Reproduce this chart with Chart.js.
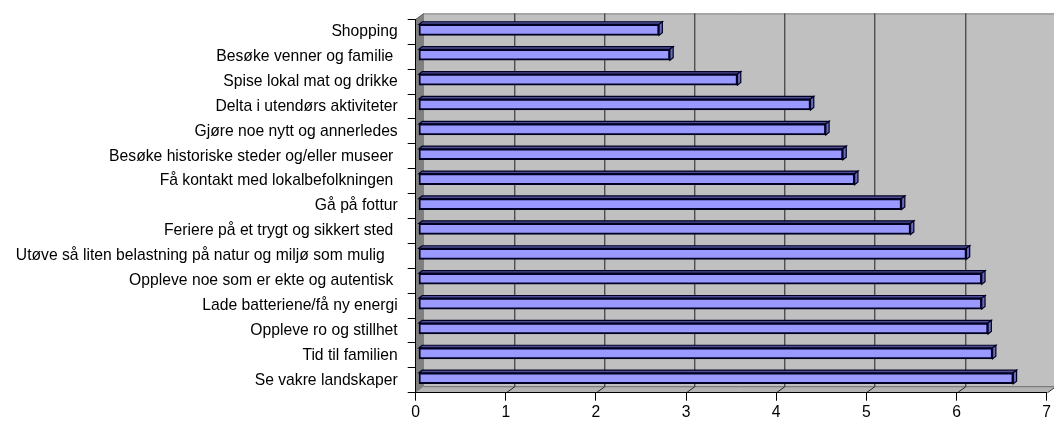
<!DOCTYPE html>
<html>
<head>
<meta charset="utf-8">
<script src="https://cdn.jsdelivr.net/npm/chart.js@4/dist/chart.umd.min.js"></script>
<style>
  html, body { margin: 0; padding: 0; background: #ffffff; }
  #wrap { width: 1054px; height: 421px; position: relative; }
</style>
</head>
<body>
<div id="wrap"><canvas id="c"></canvas></div>
<script>
const categories = [
  "Shopping",
  "Besøke venner og familie ",
  "Spise lokal mat og drikke",
  "Delta i utendørs aktiviteter",
  "Gjøre noe nytt og annerledes",
  "Besøke historiske steder og/eller museer ",
  "Få kontakt med lokalbefolkningen ",
  "Gå på fottur",
  "Feriere på et trygt og sikkert sted ",
  "Utøve så liten belastning på natur og miljø som mulig   ",
  "Oppleve noe som er ekte og autentisk ",
  "Lade batteriene/få ny energi",
  "Oppleve ro og stillhet",
  "Tid til familien",
  "Se vakre landskaper"
];
const values = [2.67, 2.79, 3.54, 4.35, 4.52, 4.71, 4.84, 5.36, 5.46, 6.08, 6.25, 6.25, 6.32, 6.37, 6.60];
const xMin = 0, xMax = 7, xStep = 1;

const FONT = { family: "'Liberation Sans', Arial, sans-serif", size: 15.7 };
const DEPTH = { dx: 8.3, dy: -6 };          // wall depth
const BARFRONT = { dx: 2.7, dy: -2 };       // bar front-face offset
const BARSIDE = { dx: 3.3, dy: -2.6 };      // bar depth

const walls3d = {
  id: 'walls3d',
  beforeDraw(chart) {
    const { ctx, chartArea: a } = chart;
    const xs = chart.scales.x;
    const L = a.left, R = a.right, T = a.top, B = a.bottom;
    ctx.save();
    // back wall
    ctx.fillStyle = '#c0c0c0';
    ctx.fillRect(L + DEPTH.dx, T + DEPTH.dy, R - L, B - T);
    ctx.strokeStyle = '#808080';
    ctx.lineWidth = 1;
    ctx.beginPath();
    ctx.moveTo(L + DEPTH.dx, T + DEPTH.dy + 0.5);
    ctx.lineTo(R + DEPTH.dx, T + DEPTH.dy + 0.5);
    ctx.stroke();
    // floor
    ctx.fillStyle = '#b4b4b4';
    ctx.beginPath();
    ctx.moveTo(L, B);
    ctx.lineTo(L + DEPTH.dx, B + DEPTH.dy);
    ctx.lineTo(R + DEPTH.dx, B + DEPTH.dy);
    ctx.lineTo(R, B);
    ctx.closePath();
    ctx.fill();
    ctx.strokeStyle = '#6a6a6a';
    ctx.beginPath();
    ctx.moveTo(L + DEPTH.dx, B + DEPTH.dy);
    ctx.lineTo(R + DEPTH.dx, B + DEPTH.dy);
    ctx.stroke();
    // left wall
    ctx.fillStyle = '#808080';
    ctx.beginPath();
    ctx.moveTo(L, T);
    ctx.lineTo(L + DEPTH.dx, T + DEPTH.dy);
    ctx.lineTo(L + DEPTH.dx, B + DEPTH.dy);
    ctx.lineTo(L, B);
    ctx.closePath();
    ctx.fill();
    ctx.strokeStyle = '#555555';
    ctx.beginPath();
    ctx.moveTo(L, T);
    ctx.lineTo(L + DEPTH.dx, T + DEPTH.dy);
    ctx.stroke();
    // back gridlines and floor diagonals
    for (let v = xMin + xStep; v <= xMax; v += xStep) {
      const px = Math.round(xs.getPixelForValue(v)) + 0.5;
      ctx.strokeStyle = '#222222';
      ctx.beginPath();
      ctx.moveTo(px + DEPTH.dx, T + DEPTH.dy);
      ctx.lineTo(px + DEPTH.dx, B + DEPTH.dy);
      ctx.stroke();
      ctx.strokeStyle = '#222222';
      ctx.beginPath();
      ctx.moveTo(px, B);
      ctx.lineTo(px + DEPTH.dx, B + DEPTH.dy);
      ctx.stroke();
    }
    ctx.restore();
  },
  beforeDatasetsDraw(chart) {
    const { ctx } = chart;
    const meta = chart.getDatasetMeta(0);
    ctx.save();
    ctx.lineWidth = 1.2;
    ctx.strokeStyle = '#000022';
    meta.data.forEach(el => {
      const p = el.getProps(['x', 'y', 'base', 'height'], true);
      const Lx = p.base + BARFRONT.dx, Rx = p.x + BARFRONT.dx;
      const Ty = p.y - p.height / 2 + BARFRONT.dy, By = p.y + p.height / 2 + BARFRONT.dy;
      // top face
      ctx.fillStyle = '#4f4f99';
      ctx.beginPath();
      ctx.moveTo(Lx, Ty);
      ctx.lineTo(Lx + BARSIDE.dx, Ty + BARSIDE.dy);
      ctx.lineTo(Rx + BARSIDE.dx, Ty + BARSIDE.dy);
      ctx.lineTo(Rx, Ty);
      ctx.closePath();
      ctx.fill(); ctx.stroke();
      // right face
      ctx.fillStyle = '#6a6ab8';
      ctx.beginPath();
      ctx.moveTo(Rx, Ty);
      ctx.lineTo(Rx + BARSIDE.dx, Ty + BARSIDE.dy);
      ctx.lineTo(Rx + BARSIDE.dx, By + BARSIDE.dy);
      ctx.lineTo(Rx, By);
      ctx.closePath();
      ctx.fill(); ctx.stroke();
    });
    ctx.restore();
    ctx.save();
    ctx.translate(BARFRONT.dx, BARFRONT.dy);
  },
  afterDatasetsDraw(chart) {
    chart.ctx.restore();
  }
};

new Chart(document.getElementById('c'), {
  type: 'bar',
  data: {
    labels: categories,
    datasets: [{
      data: values,
      backgroundColor: '#9999ff',
      borderColor: '#000022',
      borderWidth: 2,
      borderSkipped: false,
      barThickness: 11
    }]
  },
  options: {
    indexAxis: 'y',
    responsive: true,
    maintainAspectRatio: false,
    animation: false,
    devicePixelRatio: 1,
    layout: { padding: { top: 18.5, right: 5, left: 0, bottom: 0 } },
    plugins: { legend: { display: false }, tooltip: { enabled: false } },
    scales: {
      x: {
        min: xMin, max: xMax,
        ticks: { stepSize: xStep, color: '#000', font: FONT, padding: 3, maxRotation: 0 },
        grid: { drawOnChartArea: false, drawTicks: true, tickLength: 8, color: '#000' },
        border: { display: true, color: '#000', width: 1 },
        afterFit(s) { s.height = 28.3; }
      },
      y: {
        ticks: { color: '#000', font: FONT, padding: 10, autoSkip: false },
        grid: { drawOnChartArea: false, drawTicks: true, tickLength: 8, color: '#000', offset: true },
        border: { display: true, color: '#000', width: 1 },
        afterFit(s) { s.width = 415.7; }
      }
    }
  },
  plugins: [walls3d]
});
</script>
</body>
</html>
